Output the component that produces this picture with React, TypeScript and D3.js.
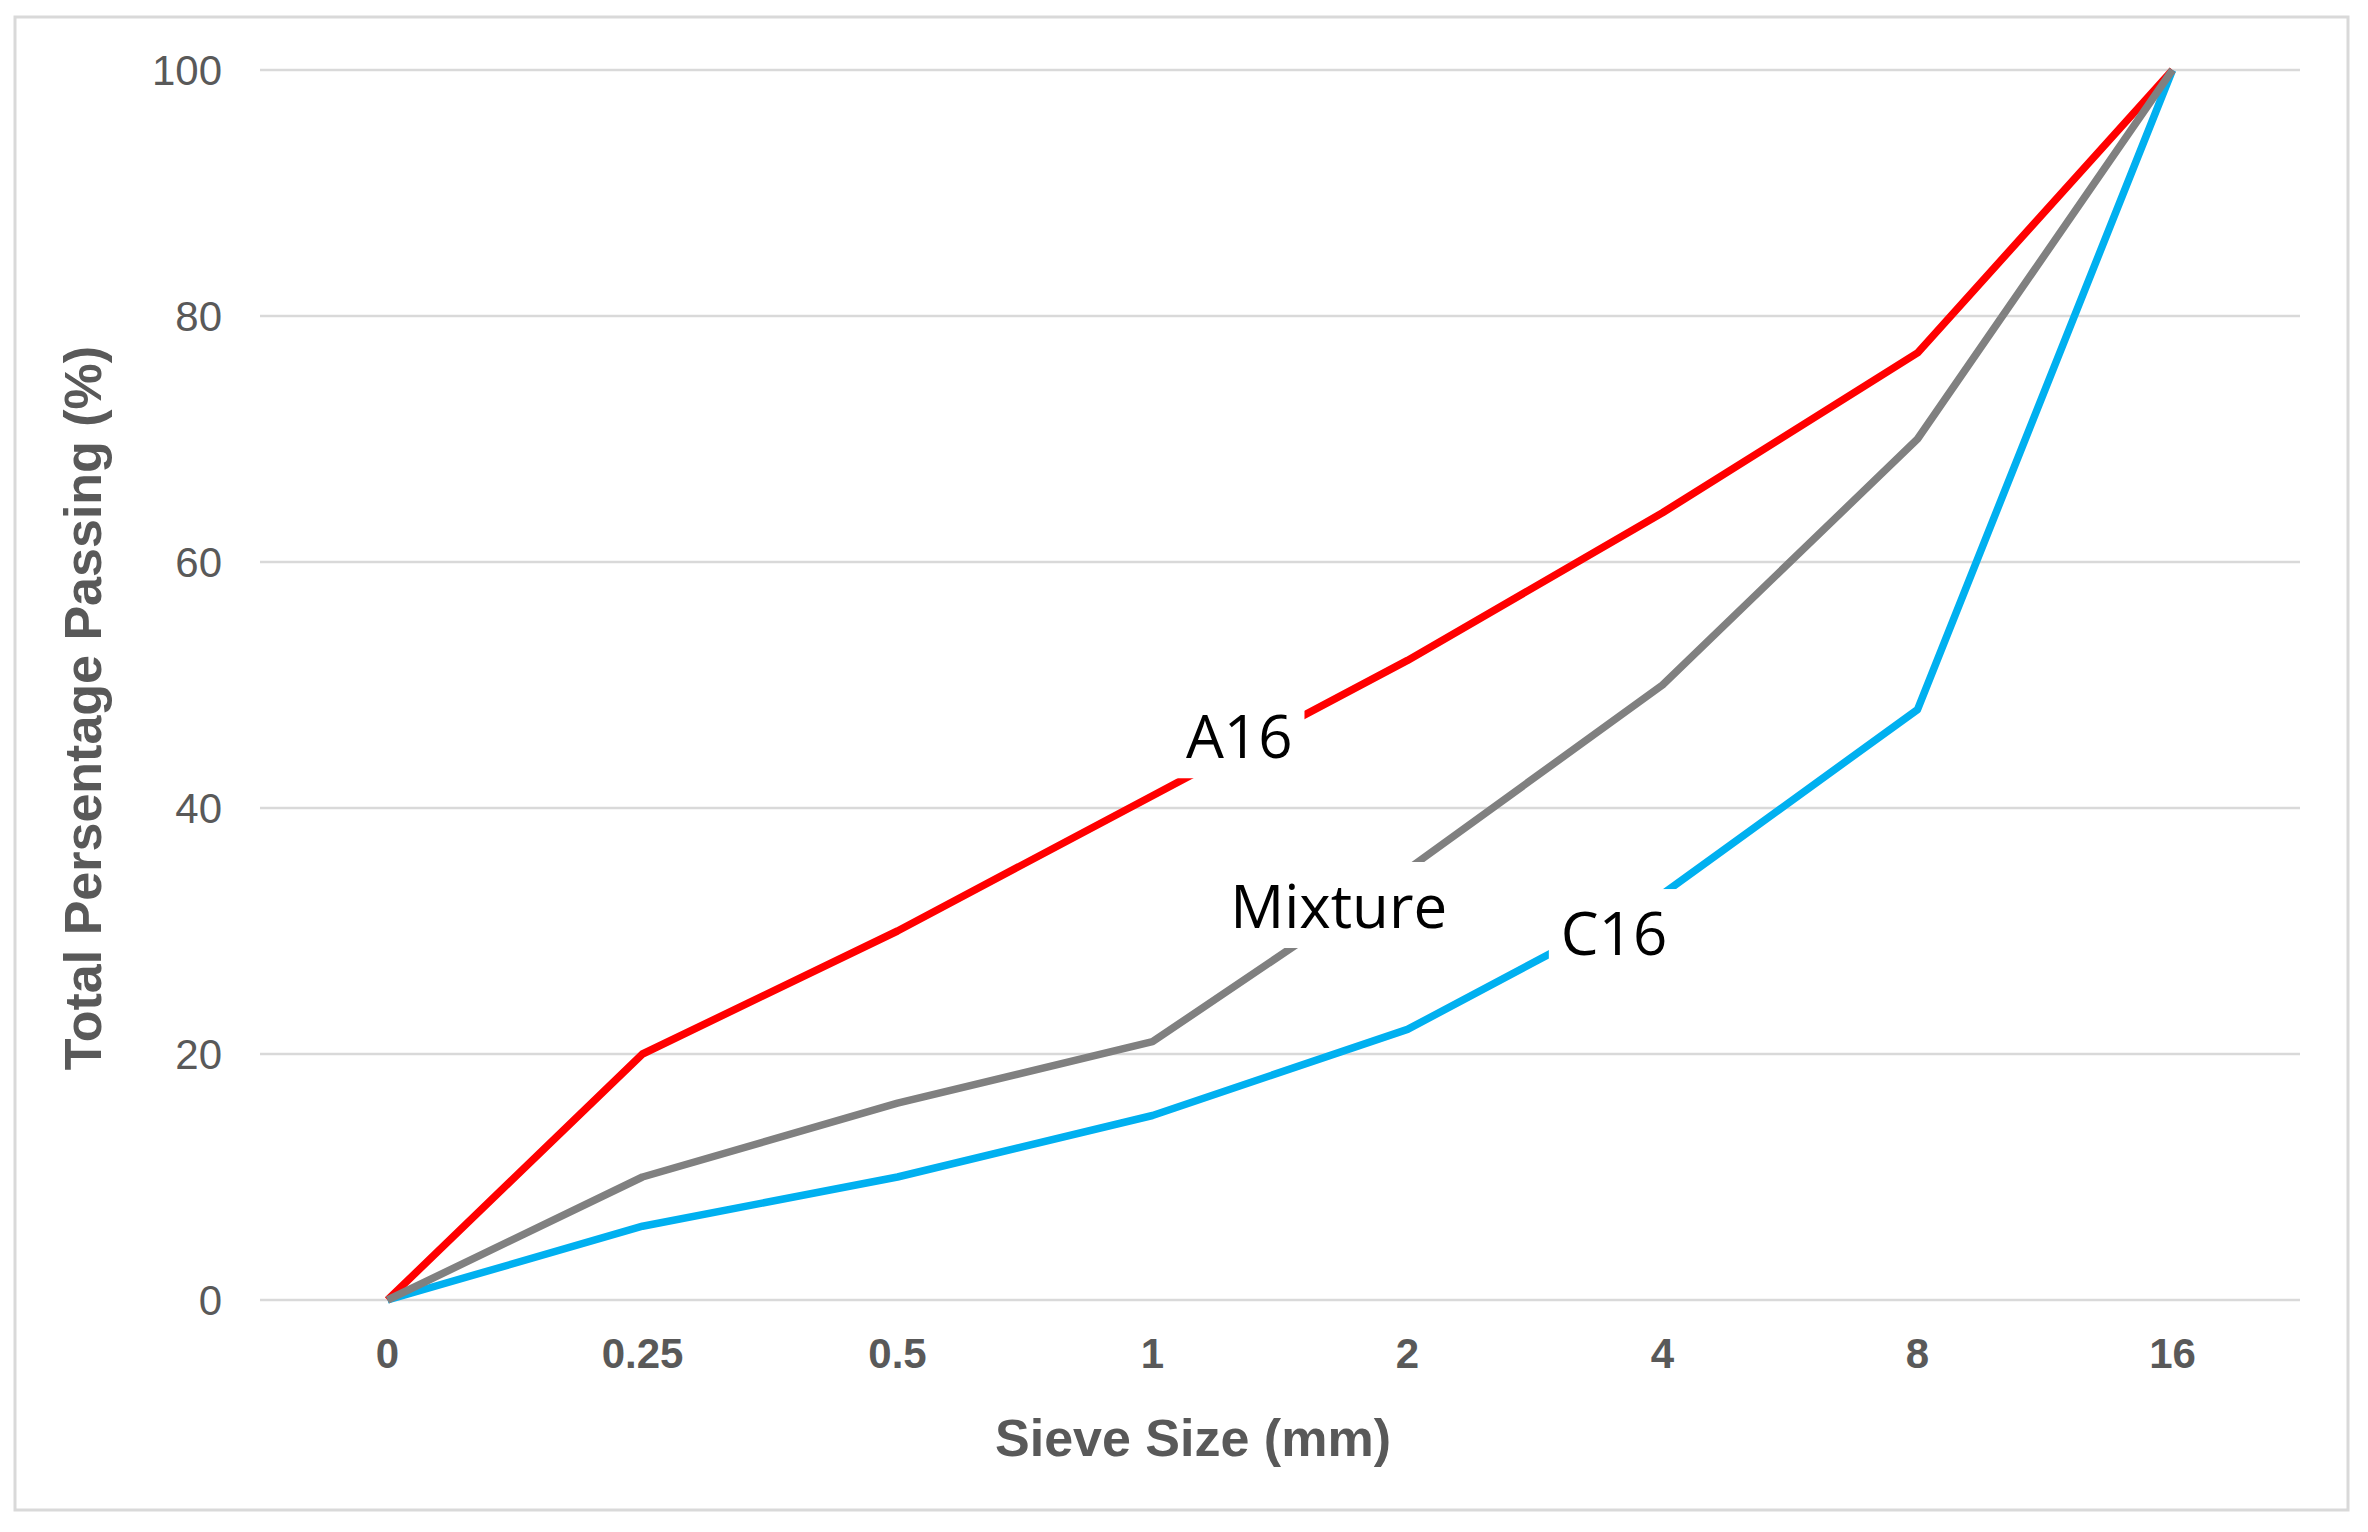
import React, { useRef, useEffect } from 'react';
import * as d3 from 'd3';

// sieve sizes (category axis) and percent passing per series
const sieveSizes = ['0', '0.25', '0.5', '1', '2', '4', '8', '16'];
const a16Values = [0, 20, 30, 41, 52, 64, 77, 100];
const mixtureValues = [0, 10, 16, 21, 35, 50, 70, 100];
const c16Values = [0, 6, 10, 15, 22, 33, 48, 100];
const yTicks = [0, 20, 40, 60, 80, 100];

// in-line series labels: name, position along category index, value
const labelNames = ['A16', 'Mixture', 'C16'];
const labelIndex = [3.34, 3.73, 4.81];
const labelValue = [45.8, 32, 29.8];

const W = 2368;
const H = 1532;

const GradingChart: React.FC = () => {
  const svgRef = useRef<SVGSVGElement>(null);

  useEffect(() => {
    if (!svgRef.current) return;
    const svg = d3.select(svgRef.current);
    svg.selectAll('*').remove();

    const xScale = d3.scalePoint<string>()
      .domain(sieveSizes)
      .range([260, 2300])
      .padding(0.5);

    const yScale = d3.scaleLinear()
      .domain([0, 100])
      .range([1300, 70]);

    svg.append('rect')
      .attr('width', W)
      .attr('height', H)
      .attr('fill', '#ffffff');

    // outer frame
    svg.append('rect')
      .attr('x', 15)
      .attr('y', 17)
      .attr('width', 2333)
      .attr('height', 1493)
      .attr('fill', 'none')
      .attr('stroke', '#d9d9d9')
      .attr('stroke-width', 3);

    // gridlines
    svg.selectAll('line.grid')
      .data(yTicks)
      .enter()
      .append('line')
      .attr('class', 'grid')
      .attr('x1', 260)
      .attr('x2', 2300)
      .attr('y1', d => yScale(d))
      .attr('y2', d => yScale(d))
      .attr('stroke', '#d9d9d9')
      .attr('stroke-width', 2.5);

    // y tick labels
    svg.selectAll('text.ytick')
      .data(yTicks)
      .enter()
      .append('text')
      .attr('class', 'ytick')
      .attr('x', 222)
      .attr('y', d => yScale(d))
      .attr('dy', '0.36em')
      .attr('text-anchor', 'end')
      .attr('font-family', 'Liberation Sans, Arial, sans-serif')
      .attr('font-size', 42)
      .attr('fill', '#595959')
      .text(d => d);

    // x tick labels
    svg.selectAll('text.xtick')
      .data(sieveSizes)
      .enter()
      .append('text')
      .attr('class', 'xtick')
      .attr('x', d => xScale(d)!)
      .attr('y', 1368)
      .attr('text-anchor', 'middle')
      .attr('font-family', 'Liberation Sans, Arial, sans-serif')
      .attr('font-weight', 'bold')
      .attr('font-size', 42)
      .attr('fill', '#595959')
      .text(d => d);

    // axis titles
    svg.append('text')
      .attr('x', 1193)
      .attr('y', 1456)
      .attr('text-anchor', 'middle')
      .attr('font-family', 'Liberation Sans, Arial, sans-serif')
      .attr('font-weight', 'bold')
      .attr('font-size', 52)
      .attr('fill', '#595959')
      .text('Sieve Size (mm)');

    svg.append('text')
      .attr('transform', 'translate(101,708) rotate(-90)')
      .attr('text-anchor', 'middle')
      .attr('font-family', 'Liberation Sans, Arial, sans-serif')
      .attr('font-weight', 'bold')
      .attr('font-size', 52)
      .attr('fill', '#595959')
      .text('Total Persentage Passing (%)');

    // series lines
    const line = d3.line<number>()
      .x((_, i) => xScale(sieveSizes[i])!)
      .y(d => yScale(d));

    const series = [
      { values: c16Values, color: '#00b0f0' },
      { values: a16Values, color: '#ff0000' },
      { values: mixtureValues, color: '#808080' },
    ];

    svg.selectAll('path.series')
      .data(series)
      .enter()
      .append('path')
      .attr('class', 'series')
      .attr('d', d => line(d.values))
      .attr('fill', 'none')
      .attr('stroke', d => d.color)
      .attr('stroke-width', 7.5)
      .attr('stroke-linejoin', 'round');

    // in-line labels with white boxes that cut the lines
    const step = xScale.step();
    const x0 = xScale(sieveSizes[0])!;
    labelNames.forEach((name, i) => {
      const g = svg.append('g');
      const box = g.append('rect').attr('fill', '#ffffff');
      const t = g.append('text')
        .attr('x', x0 + labelIndex[i] * step)
        .attr('y', yScale(labelValue[i]))
        .attr('dy', '0.36em')
        .attr('text-anchor', 'middle')
        .attr('font-family', 'Open Sans, Noto Sans, sans-serif')
        .attr('font-size', 60)
        .attr('fill', '#000000')
        .text(name);
      const bb = (t.node() as SVGTextElement).getBBox();
      box
        .attr('x', bb.x - 12)
        .attr('y', bb.y - 2)
        .attr('width', bb.width + 24)
        .attr('height', bb.height + 4);
    });
  }, []);

  return (
    <svg
      ref={svgRef}
      width={W}
      height={H}
      style={{ position: 'absolute', left: 0, top: 0 }}
    />
  );
};

export default function App() {
  return <GradingChart />;
}
